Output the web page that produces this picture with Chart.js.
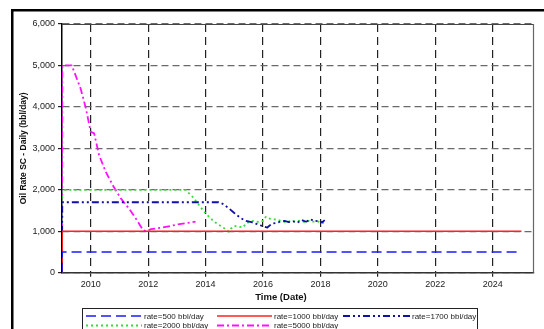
<!DOCTYPE html>
<html>
<head>
<meta charset="utf-8">
<script src="https://cdn.jsdelivr.net/npm/chart.js@4/dist/chart.umd.min.js"></script>
<style>
    html, body { margin: 0; padding: 0; background: #ffffff; }
    #caja { width: 544px; height: 329px; position: relative; }
</style>
</head>
<body>
<div id="caja"><canvas id="grafica-caudal"></canvas></div>
<script>
// Años de las marcas del eje X
const aniosEje = [2010, 2012, 2014, 2016, 2018, 2020, 2022, 2024];

// Caudal de petróleo (bbl/day) para cada restricción de caudal
const t500 = [2009.0, 2009.01, 2025.0];
const q500 = [0, 500, 500];

const t1000 = [2009.0, 2009.01, 2025.0];
const q1000 = [0, 1000, 1000];

const t1700 = [2009.0, 2009.01, 2014.45, 2014.6, 2014.8, 2015.0, 2015.2, 2015.4, 2015.6, 2015.8, 2016.0, 2016.15,
    2016.3, 2016.45, 2016.6, 2016.75, 2016.9, 2017.05, 2017.2, 2017.35, 2017.5, 2017.65, 2017.8, 2017.95, 2018.05, 2018.15];
const q1700 = [0, 1700, 1700, 1660, 1560, 1440, 1330, 1250, 1220, 1170, 1120, 1090,
    1180, 1200, 1230, 1250, 1220, 1240, 1210, 1270, 1230, 1290, 1240, 1260, 1210, 1270];

const t2000 = [2009.0, 2009.01, 2013.3, 2013.55, 2013.75, 2013.95, 2014.15, 2014.3, 2014.5, 2014.65, 2014.8, 2014.88,
    2015.0, 2015.15, 2015.3, 2015.4, 2015.55, 2015.7, 2015.85, 2016.0, 2016.1, 2016.2, 2016.35, 2016.5, 2016.65,
    2016.8, 2017.0, 2017.15, 2017.3, 2017.45, 2017.6, 2017.75, 2017.9, 2018.05, 2018.15];
const q2000 = [0, 2000, 2000, 1830, 1650, 1470, 1330, 1230, 1140, 1070, 990, 1060,
    1130, 1110, 1090, 1180, 1240, 1250, 1220, 1250, 1350, 1310, 1290, 1280, 1240,
    1220, 1250, 1230, 1260, 1220, 1250, 1230, 1240, 1200, 1210];

const t5000 = [2009.0, 2009.01, 2009.34, 2009.65, 2009.83, 2010.0, 2010.12, 2010.29, 2010.52, 2010.76, 2011.04,
    2011.33, 2011.57, 2011.82, 2011.92, 2012.1, 2012.5, 2013.0, 2013.65];
const q5000 = [0, 5000, 5000, 4440, 3970, 3400, 3360, 2840, 2440, 2120, 1800,
    1550, 1310, 1030, 1000, 1050, 1090, 1160, 1230];

function puntos(t, q) {
    return t.map(function (x, i) {
        return { x: x, y: q[i] };
    });
}

const series = [
    { label: 'rate=500 bbl/day', data: puntos(t500, q500), borderColor: '#1a1aff', borderWidth: 1.6, borderDash: [10, 5] },
    { label: 'rate=1000 bbl/day', data: puntos(t1000, q1000), borderColor: '#ff2020', borderWidth: 1.4, borderDash: [] },
    { label: 'rate=1700 bbl/day', data: puntos(t1700, q1700), borderColor: '#1010a8', borderWidth: 1.8, borderDash: [7, 3, 2, 3, 2, 3] },
    { label: 'rate=2000 bbl/day', data: puntos(t2000, q2000), borderColor: '#33dd33', borderWidth: 1.8, borderDash: [2, 3] },
    { label: 'rate=5000 bbl/day', data: puntos(t5000, q5000), borderColor: '#ff10ff', borderWidth: 1.8, borderDash: [7, 3, 2, 3] },
];

// Posición de cada muestra de la leyenda: [x inicio, x fin, y]
const huecosLeyenda = [[86, 142, 316], [217, 272, 316], [343, 410, 316], [86, 142, 325.5], [217, 272, 325.5]];

// Marco exterior, borde del área de trazado, título del eje X y leyenda
const marco = {
    id: 'marco',
    afterDraw(chart) {
        const ctx = chart.ctx;
        const area = chart.chartArea;
        ctx.save();

        ctx.fillStyle = '#000000';
        ctx.fillRect(11, 9, 533, 2.5);
        ctx.fillRect(11, 9, 2.5, 320);

        ctx.lineWidth = 1.2;
        ctx.strokeStyle = '#444444';
        ctx.beginPath();
        ctx.moveTo(area.left, area.top + 0.5);
        ctx.lineTo(area.right, area.top + 0.5);
        ctx.stroke();
        ctx.strokeStyle = '#666666';
        ctx.beginPath();
        ctx.moveTo(area.right, area.top);
        ctx.lineTo(area.right, area.bottom);
        ctx.stroke();

        ctx.fillStyle = '#111111';
        ctx.font = 'bold 9.5px "Liberation Sans", Arial, sans-serif';
        ctx.textAlign = 'center';
        ctx.textBaseline = 'middle';
        ctx.fillText('Time (Date)', 281, 297);

        ctx.strokeStyle = '#222222';
        ctx.lineWidth = 1;
        ctx.strokeRect(82.5, 308.5, 395, 30);

        ctx.font = '8px "Liberation Sans", Arial, sans-serif';
        ctx.textAlign = 'left';
        chart.data.datasets.forEach(function (ds, i) {
            const h = huecosLeyenda[i];
            ctx.strokeStyle = ds.borderColor;
            ctx.lineWidth = ds.borderWidth;
            ctx.setLineDash(ds.borderDash);
            ctx.beginPath();
            ctx.moveTo(h[0], h[2]);
            ctx.lineTo(h[1], h[2]);
            ctx.stroke();
            ctx.setLineDash([]);
            ctx.fillStyle = '#222222';
            ctx.fillText(ds.label, h[1] + 2, h[2] + 0.5);
        });
        ctx.restore();
    },
};

const fuente = { family: '"Liberation Sans", Arial, sans-serif', size: 9 };

new Chart(document.getElementById('grafica-caudal'), {
    type: 'line',
    data: {
        datasets: series.map(function (s) {
            return Object.assign({ fill: false, pointRadius: 0, tension: 0, borderJoinStyle: 'round' }, s);
        }),
    },
    options: {
        responsive: true,
        maintainAspectRatio: false,
        animation: false,
        devicePixelRatio: 1,
        layout: {
            padding: { top: 24, right: 10.5, bottom: 27, left: 0 },
        },
        plugins: {
            legend: { display: false },
            tooltip: { enabled: false },
        },
        scales: {
            x: {
                type: 'linear',
                min: 2009,
                max: 2025.42,
                afterBuildTicks: function (scale) {
                    scale.ticks = aniosEje.map(function (v) { return { value: v }; });
                },
                afterFit: function (scale) {
                    scale.height = 29.3;
                },
                ticks: {
                    color: '#222222',
                    font: fuente,
                    padding: 2,
                    maxRotation: 0,
                    callback: function (v) { return String(v); },
                },
                grid: {
                    color: '#222222',
                    lineWidth: 1.2,
                    tickLength: 4,
                    tickColor: '#222222',
                },
                border: {
                    display: true,
                    color: '#333333',
                    width: 1.5,
                    dash: [8, 5],
                },
            },
            y: {
                min: 0,
                max: 6000,
                afterFit: function (scale) {
                    scale.width = 62;
                },
                ticks: {
                    stepSize: 1000,
                    color: '#222222',
                    font: fuente,
                    padding: 3,
                    callback: function (v) { return v.toLocaleString('en-US'); },
                },
                grid: {
                    color: '#6a6a6a',
                    lineWidth: 1.2,
                    tickLength: 4,
                    tickColor: '#222222',
                },
                border: {
                    display: true,
                    color: '#000000',
                    width: 1.5,
                    dash: [7, 4],
                },
                title: {
                    display: true,
                    text: 'Oil Rate SC - Daily (bbl/day)',
                    color: '#111111',
                    font: { family: '"Liberation Sans", Arial, sans-serif', size: 8.5, weight: 'bold' },
                    padding: { top: 18.9, bottom: 0 },
                },
            },
        },
    },
    plugins: [marco],
});
</script>
</body>
</html>
